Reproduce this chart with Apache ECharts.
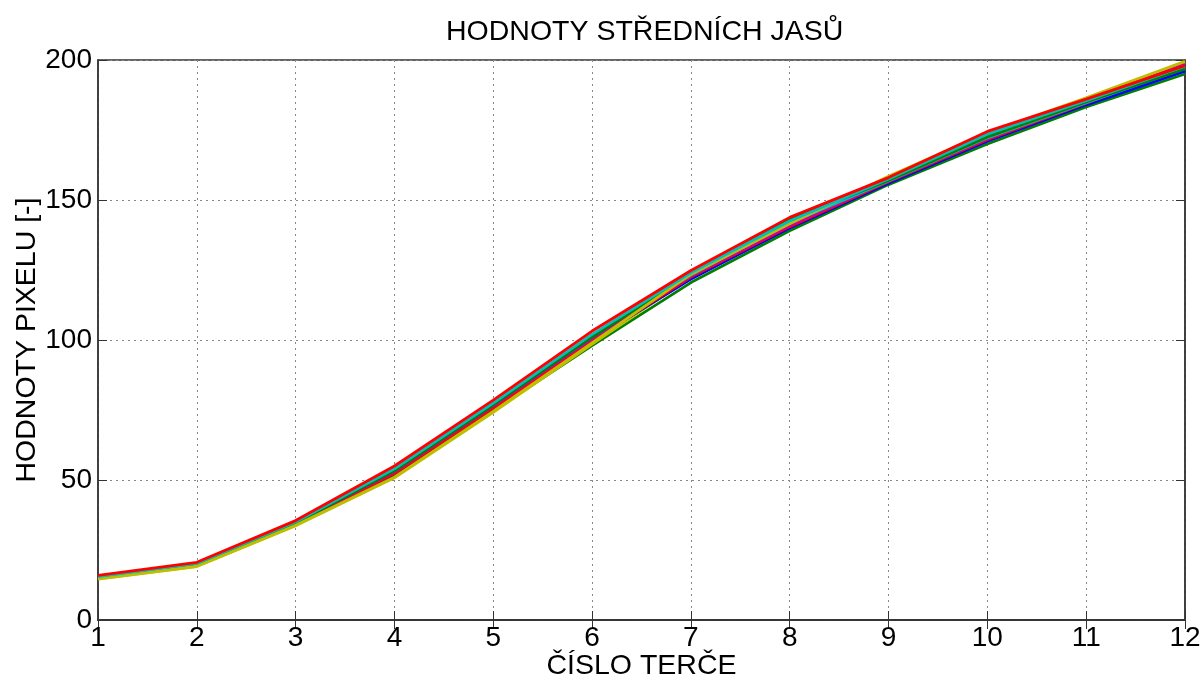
<!DOCTYPE html>
<html>
<head>
<meta charset="utf-8">
<script src="https://cdn.jsdelivr.net/npm/echarts@6/dist/echarts.min.js"></script>
<style>
  html, body { margin: 0; padding: 0; background: #fff; }
  #chart { width: 1203px; height: 682px; }
</style>
</head>
<body>
<div id="chart"></div>
<script>
// Target numbers (x axis)
const targets = [1, 2, 3, 4, 5, 6, 7, 8, 9, 10, 11, 12];

// Mean brightness per measurement run
const runR1 = [15.9, 20.6, 35.5, 55.0, 78.5, 103.2, 124.8, 143.8, 158.0, 174.5, 186.0, 198.0];
const runC1 = [15.5, 20.2, 35.0, 54.0, 77.5, 102.0, 124.0, 142.5, 157.5, 173.5, 185.5, 197.8];
const runK1 = [15.4, 20.0, 34.8, 53.5, 77.0, 101.5, 123.5, 142.0, 157.2, 173.0, 185.2, 197.2];
const runG2 = [15.3, 20.0, 34.6, 53.3, 76.8, 101.0, 123.8, 143.0, 157.0, 172.5, 185.0, 196.8];
const runM1 = [15.2, 19.9, 34.5, 53.0, 76.5, 100.5, 123.0, 141.0, 157.0, 172.0, 185.5, 198.5];
const runB1 = [15.1, 19.7, 34.3, 52.5, 76.0, 100.2, 122.0, 140.0, 156.0, 171.0, 184.0, 196.0];
const runB2 = [15.0, 19.6, 34.2, 52.2, 75.8, 100.0, 121.8, 140.2, 156.3, 171.2, 184.2, 196.3];
const runR2 = [15.0, 19.6, 34.1, 52.3, 75.7, 99.8, 122.5, 140.5, 156.5, 171.5, 184.6, 197.5];
const runY1 = [14.7, 19.2, 33.8, 51.0, 74.5, 99.0, 123.5, 141.5, 158.5, 174.0, 186.5, 199.5];
const runG1 = [14.9, 19.4, 33.9, 51.8, 74.8, 98.0, 120.5, 139.0, 155.5, 170.0, 183.2, 195.0];
const runY2 = [14.6, 19.1, 33.7, 50.8, 74.2, 98.5, 122.5, 141.2, 157.8, 173.2, 186.0, 199.0];
const runC2 = [15.4, 20.1, 34.9, 53.8, 77.2, 101.5, 123.2, 141.8, 156.8, 172.2, 184.8, 197.0];

const yTicks = [0, 50, 100, 150, 200];

const runs = [
  { data: runG1, color: '#008000' },
  { data: runB1, color: '#0000ff' },
  { data: runY2, color: '#bfbf00' },
  { data: runB2, color: '#0000ff' },
  { data: runR2, color: '#ff0000' },
  { data: runM1, color: '#bf00bf' },
  { data: runK1, color: '#404040' },
  { data: runC2, color: '#00bfbf' },
  { data: runG2, color: '#008000' },
  { data: runY1, color: '#bfbf00' },
  { data: runC1, color: '#00bfbf' },
  { data: runR1, color: '#ff0000' }
];

const font = 'Liberation Sans, Arial, sans-serif';

const chart = echarts.init(document.getElementById('chart'), null, { renderer: 'canvas' });

chart.setOption({
  animation: false,
  backgroundColor: '#ffffff',
  title: {
    text: 'HODNOTY STŘEDNÍCH JASŮ',
    left: 441,
    top: 13,
    textStyle: { fontFamily: font, fontSize: 28.5, fontWeight: 'normal', color: '#000' }
  },
  grid: {
    left: 98, right: 18, top: 60, bottom: 62,
    containLabel: false, outerBoundsMode: 'none',
    show: true, borderColor: '#333', borderWidth: 1.5, backgroundColor: '#fff'
  },
  xAxis: [{
    type: 'value', min: 1, max: 12, interval: 1,
    name: 'ČÍSLO TERČE', nameLocation: 'middle', nameGap: 32, nameMoveOverlap: false,
    nameTextStyle: { fontFamily: font, fontSize: 28.5, color: '#000' },
    axisLine: { show: true, lineStyle: { color: '#333', width: 1.5 } },
    axisTick: { show: true, inside: true, length: 9, lineStyle: { color: '#333' } },
    axisLabel: { fontFamily: font, fontSize: 28, color: '#000', margin: 4 },
    splitLine: { show: true, lineStyle: { color: '#888', type: [2, 4], width: 1 } }
  }, {
    type: 'value', min: 1, max: 12, interval: 1, position: 'top',
    axisLine: { show: true, lineStyle: { color: '#333', width: 1.5 } },
    axisTick: { show: true, inside: true, length: 9, lineStyle: { color: '#333' } },
    axisLabel: { show: false },
    splitLine: { show: false }
  }],
  yAxis: [{
    type: 'value', min: 0, max: 200, interval: 50,
    name: 'HODNOTY PIXELU [-]', nameLocation: 'middle', nameGap: 56, nameRotate: 90, nameMoveOverlap: false,
    nameTextStyle: { fontFamily: font, fontSize: 28.5, color: '#000' },
    axisLine: { show: true, lineStyle: { color: '#333', width: 1.5 } },
    axisTick: { show: true, inside: true, length: 9, lineStyle: { color: '#333' } },
    axisLabel: {
      fontFamily: font, fontSize: 28, color: '#000', margin: 6,
      formatter: v => (yTicks.includes(v) ? String(v) : '')
    },
    splitLine: { show: true, lineStyle: { color: '#888', type: [2, 4], width: 1 } }
  }, {
    type: 'value', min: 0, max: 200, interval: 50, position: 'right',
    axisLine: { show: true, lineStyle: { color: '#333', width: 1.5 } },
    axisTick: { show: true, inside: true, length: 9, lineStyle: { color: '#333' } },
    axisLabel: { show: false },
    splitLine: { show: false }
  }],
  series: runs.map(r => ({
    type: 'line',
    xAxisIndex: 0,
    yAxisIndex: 0,
    data: targets.map((x, i) => [x, r.data[i]]),
    showSymbol: false,
    lineStyle: { color: r.color, width: 2.8 },
    itemStyle: { color: r.color },
    silent: true
  }))
});
</script>
</body>
</html>
